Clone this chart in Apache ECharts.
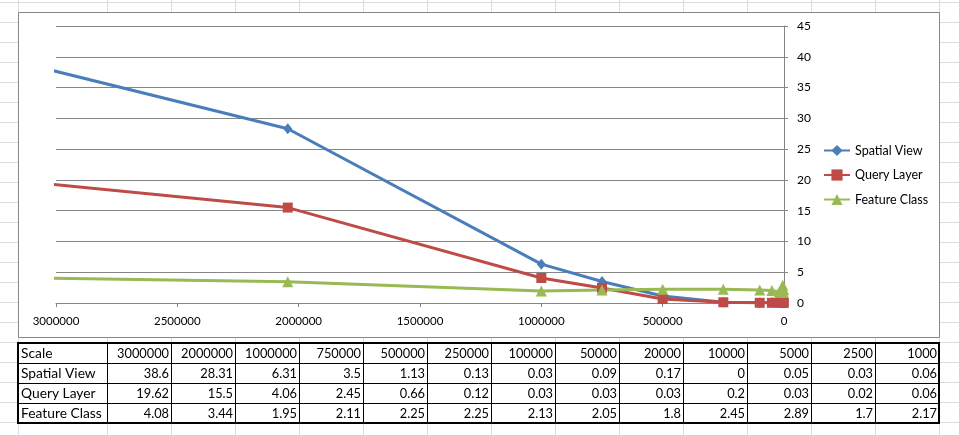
<!DOCTYPE html>
<html><head><meta charset="utf-8">
<script src="https://cdn.jsdelivr.net/npm/echarts@6/dist/echarts.min.js"></script>
<style>html,body{margin:0;padding:0;background:#fff}#c{width:959px;height:435px}</style>
</head><body><div id="c"></div>
<script>
// ---- data ----
const scaleLabels = ['3000000','2000000','1000000','750000','500000','250000','100000','50000','20000','10000','5000','2500','1000'];
// x positions of the plotted points
const plotX = [3100000, 2045000, 1000000, 750000, 500000, 250000, 100000, 50000, 20000, 10000, 5000, 2500, 1000];
const spatialView  = [38.6, 28.31, 6.31, 3.5, 1.13, 0.13, 0.03, 0.09, 0.17, 0, 0.05, 0.03, 0.06];
const queryLayer   = [19.62, 15.5, 4.06, 2.45, 0.66, 0.12, 0.03, 0.03, 0.03, 0.2, 0.03, 0.02, 0.06];
const featureClass = [4.08, 3.44, 1.95, 2.11, 2.25, 2.25, 2.13, 2.05, 1.8, 2.45, 2.89, 1.7, 2.17];
const seriesNames = ['Spatial View', 'Query Layer', 'Feature Class'];
const tableHeader = 'Scale';

// ---- layout ----
const W = 959, H = 435;
const colEdges = [18,107,171,235,299,363,427,491,555,619,683,747,811,875,939];
const rowEdges = [343,363,383,403,423];
const FONT = 'Lato';
const gridColor = '#dadcdd';

const g = [];
// sheet grid lines
for (let y = 2; y < H; y += 20) g.push({type:'line', z:-20, silent:true, shape:{x1:0,y1:y+0.5,x2:W,y2:y+0.5}, style:{stroke:gridColor, lineWidth:1}});
const sheetCols = colEdges.concat([1003]);
sheetCols.forEach(x => g.push({type:'line', z:-20, silent:true, shape:{x1:x+0.5,y1:0,x2:x+0.5,y2:H}, style:{stroke:gridColor, lineWidth:1}}));
// chart frame
g.push({type:'rect', z:-10, silent:true, shape:{x:18.5,y:12.5,width:921,height:325}, style:{fill:'#fff', stroke:'#878787', lineWidth:1}});
// table
g.push({type:'rect', z:-5, silent:true, shape:{x:colEdges[0],y:rowEdges[0],width:colEdges[colEdges.length-1]-colEdges[0],height:rowEdges[4]-rowEdges[0]}, style:{fill:'#fff', stroke:'none'}});
for (let i = 1; i < colEdges.length-1; i++) g.push({type:'line', z:-4, silent:true, shape:{x1:colEdges[i]+0.5,y1:rowEdges[0],x2:colEdges[i]+0.5,y2:rowEdges[4]}, style:{stroke:'#000', lineWidth:1}});
for (let j = 1; j < rowEdges.length-1; j++) g.push({type:'line', z:-4, silent:true, shape:{x1:colEdges[0],y1:rowEdges[j]+0.5,x2:colEdges[colEdges.length-1],y2:rowEdges[j]+0.5}, style:{stroke:'#000', lineWidth:1}});
g.push({type:'rect', z:-3, silent:true, shape:{x:colEdges[0],y:rowEdges[0],width:colEdges[colEdges.length-1]-colEdges[0],height:rowEdges[4]-rowEdges[0]}, style:{fill:'none', stroke:'#000', lineWidth:2}});
const rows = [[tableHeader].concat(scaleLabels),
  [seriesNames[0]].concat(spatialView.map(String)),
  [seriesNames[1]].concat(queryLayer.map(String)),
  [seriesNames[2]].concat(featureClass.map(String))];
rows.forEach((r, j) => {
  const cy = (rowEdges[j] + rowEdges[j+1]) / 2 + 1;
  r.forEach((t, i) => {
    const left = i === 0;
    g.push({type:'text', z:-2, silent:true,
      x: left ? colEdges[0] + 3 : colEdges[i+1] - 2, y: cy,
      style:{text:t, fill:'#000', font:(left ? '13.8px ' : '12.8px ') + FONT, textAlign: left ? 'left':'right', textVerticalAlign:'middle'}});
  });
});

const colors = ['#4A7EBB', '#BE4B48', '#98B954'];
const symbols = ['diamond', 'rect', 'triangle'];
const sizes = [[9,11], 10, 11];
const vals = [spatialView, queryLayer, featureClass];

const chart = echarts.init(document.getElementById('c'), null, {renderer:'canvas'});
chart.setOption({
  animation:false,
  graphic: g,
  grid:{left:56, right:175, top:26, height:277, containLabel:false},
  xAxis:{type:'value', inverse:true, min:0, max:3000000, interval:500000,
    axisLine:{show:true, onZero:false, lineStyle:{color:'#868686', width:1}},
    axisTick:{show:true, length:4, lineStyle:{color:'#868686'}},
    axisLabel:{color:'#000', fontFamily:FONT, fontSize:11.5, margin:12, formatter: v => String(v)},
    splitLine:{show:false}},
  yAxis:{type:'value', position:'right', min:0, max:45, interval:5,
    axisLine:{show:true, lineStyle:{color:'#868686', width:1}},
    axisTick:{show:true, length:4, lineStyle:{color:'#868686'}},
    axisLabel:{color:'#000', fontFamily:FONT, fontSize:12, margin:13},
    splitLine:{show:true, lineStyle:{color:'#868686', width:1}}},
  legend:{orient:'vertical', left:823, top:144, padding:0, itemWidth:26, itemHeight:14, itemGap:11.5,
    textStyle:{fontFamily:FONT, fontSize:12.5, color:'#000'}, data:seriesNames},
  series: seriesNames.map((n, k) => ({
    name:n, type:'line', data: plotX.map((x, i) => [x, vals[k][i]]),
    symbol:symbols[k], symbolSize:sizes[k], showAllSymbol:true, clip:true,
    lineStyle:{width:3, color:colors[k]}, itemStyle:{color:colors[k]}
  }))
});
</script></body></html>
